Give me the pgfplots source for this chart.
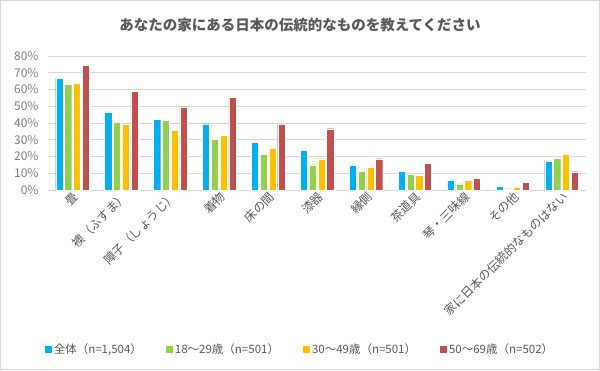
\documentclass[border=0pt]{standalone}
\usepackage{pgfplots}
\pgfplotsset{compat=1.18}
\usepackage{fontspec}
\setmainfont{Noto Sans CJK JP}
\definecolor{cA}{HTML}{00B0F0}
\definecolor{cB}{HTML}{92D050}
\definecolor{cC}{HTML}{FFC000}
\definecolor{cD}{HTML}{C0504D}
\definecolor{gridc}{HTML}{D9D9D9}
\definecolor{txt}{HTML}{595959}
\definecolor{tickc}{HTML}{7F7F7F}
\begin{document}
\begin{tikzpicture}[x=1pt,y=1pt]
\useasboundingbox (0,0) rectangle (600,370);
\draw[color=gridc, line width=1pt] (0.5,0.5) rectangle (599.5,369.5);
\node[font=\fontsize{14.5}{16}\selectfont\bfseries, text=txt] at (300,345) {あなたの家にある日本の伝統的なものを教えてください};
\begin{axis}[
  at={(48pt,180pt)}, anchor=south west,
  scale only axis, width=538pt, height=134pt,
  ymin=0, ymax=80, xmin=-0.5, xmax=10.5,
  ytick={0,10,...,80},
  xtick={0,...,10},
  xticklabels={畳,襖（ふすま）,障子（しょうじ）,着物,床の間,漆器,縁側,茶道具,琴・三味線,その他,家に日本の伝統的なものはない},
  ymajorgrids,
  grid style={color=gridc, line width=1pt},
  axis lines*=left,
  y axis line style={draw=none},
  x axis line style={color=gridc, line width=1pt},
  major tick length=0pt,
  tick style={draw=none},
  /pgf/number format/assume math mode=true,
  yticklabel={\pgfmathprintnumber{\tick}\%},
  yticklabel style={text=tickc, font=\fontsize{12}{14}\selectfont, xshift=-6pt},
  xticklabel style={text=txt, font=\fontsize{12}{14}\selectfont, rotate=45, anchor=east, yshift=-6pt, xshift=3pt},
  ybar, bar width=7.2pt,
  every axis plot/.append style={draw=white, line width=0.3pt},
  legend style={at={(0.4684,-1.1866)}, anchor=center, draw=none, legend columns=4,
    font=\fontsize{11.5}{13}\selectfont, text=txt,
    /tikz/every even column/.append style={column sep=22pt}},
  legend image code/.code={\fill[#1, draw=none] (0pt,-3.5pt) rectangle (7pt,3.5pt);},
]
\addplot[fill=cA, bar shift=-13.2pt] coordinates {(0,67.0) (1,46.6) (2,42.2) (3,39.6) (4,28.5) (5,23.5) (6,14.7) (7,11.3) (8,5.6) (9,2.4) (10,17.3)};
\addplot[fill=cB, bar shift=-4.4pt] coordinates {(0,63.1) (1,40.4) (2,41.6) (3,30.4) (4,21.3) (5,15.1) (6,11.3) (7,9.4) (8,3.6) (9,0.8) (10,19.1)};
\addplot[fill=cC, bar shift=4.4pt] coordinates {(0,63.5) (1,39.6) (2,35.6) (3,32.6) (4,24.7) (5,18.7) (6,13.5) (7,8.8) (8,5.8) (9,1.8) (10,21.3)};
\addplot[fill=cD, bar shift=13.2pt] coordinates {(0,74.4) (1,58.9) (2,49.7) (3,55.5) (4,39.2) (5,36.6) (6,18.7) (7,16.1) (8,7.0) (9,4.4) (10,10.9)};
\legend{{全体（n=1,504）},{18～29歳（n=501）},{30～49歳（n=501）},{50～69歳（n=502）}}
\end{axis}
\end{tikzpicture}
\end{document}
